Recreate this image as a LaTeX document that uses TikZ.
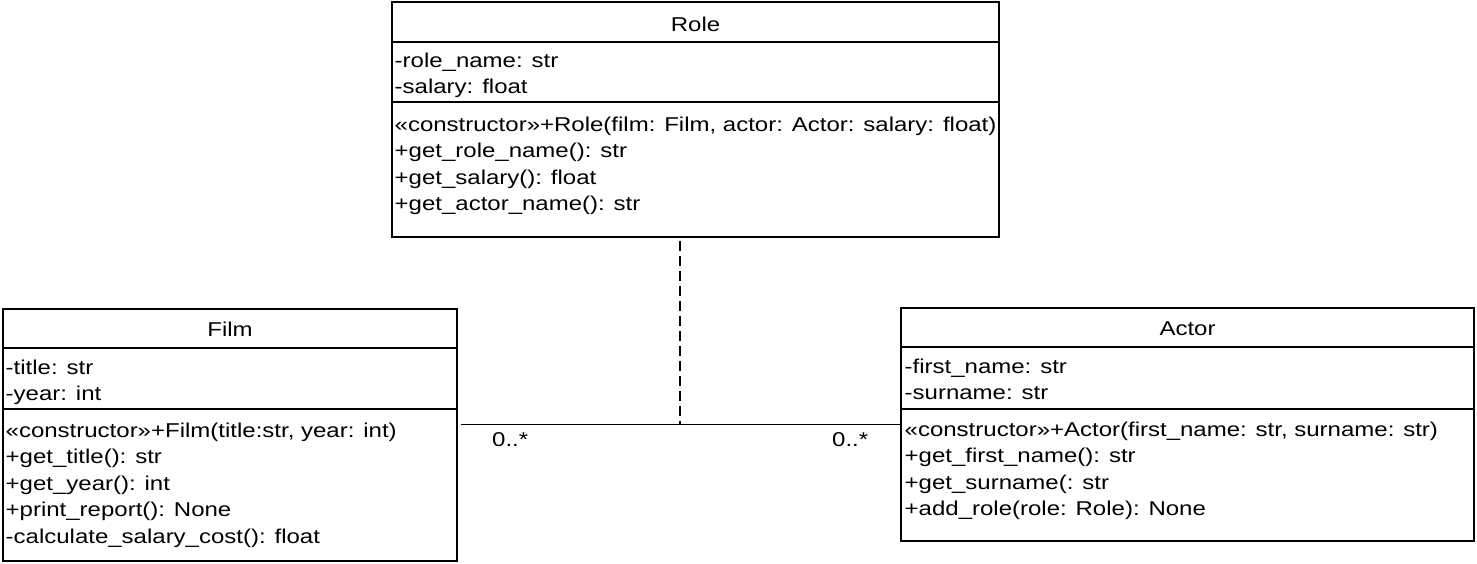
\documentclass[tikz,border=0pt]{standalone}
\usepackage{fontspec}
\setmainfont{Liberation Sans}[FakeStretch=1.2]
\begin{document}
\begin{tikzpicture}[x=1pt,y=-1pt,
  box/.style={draw=black,line width=1.3pt,rectangle,inner sep=0pt,fill=none},
  divider/.style={draw=black,line width=1.3pt},
  txt/.style={inner sep=0pt,anchor=base west,font=\fontsize{20}{24}\selectfont,text=black},
  ttl/.style={inner sep=0pt,anchor=base,font=\fontsize{20}{24}\selectfont,text=black},
  conn/.style={draw=black,line width=1.3pt},
  dconn/.style={draw=black,line width=1.3pt,dash pattern=on 10pt off 5pt},
  mult/.style={inner sep=0pt,anchor=base west,font=\fontsize{20}{24}\selectfont,text=black}]
\useasboundingbox (0,0) rectangle (1477,563);
\fill[white] (0,0) rectangle (1477,563);

% ---------- Role ----------
\node[box,minimum width=607pt,minimum height=235pt] (role) at (695.5,119.5) {};
\draw[divider] (role.west |- 0,42) -- (role.east |- 0,42);
\draw[divider] (role.west |- 0,102) -- (role.east |- 0,102);
\node[ttl] (roleT) at (695.5,31) {Role};
\node[txt] (roleA1) at (394.5,67) {-role\_name: str};
\node[txt] (roleA2) at (394.5,93.6) {-salary: float};
\node[txt] (roleM1) at (394.5,131) {«constructor»+Role(film: Film, actor: Actor: salary: float)};
\node[txt] (roleM2) at (394.5,157.6) {+get\_role\_name(): str};
\node[txt] (roleM3) at (394.5,184.2) {+get\_salary(): float};
\node[txt] (roleM4) at (394.5,210.8) {+get\_actor\_name(): str};

% ---------- Film ----------
\node[box,minimum width=454pt,minimum height=252pt] (film) at (230,435) {};
\draw[divider] (film.west |- 0,348) -- (film.east |- 0,348);
\draw[divider] (film.west |- 0,409) -- (film.east |- 0,409);
\node[ttl] (filmT) at (230,336) {Film};
\node[txt] (filmA1) at (5.5,374) {-title: str};
\node[txt] (filmA2) at (5.5,400.6) {-year: int};
\node[txt] (filmM1) at (5.5,437) {«constructor»+Film(title:str, year: int)};
\node[txt] (filmM2) at (5.5,463.6) {+get\_title(): str};
\node[txt] (filmM3) at (5.5,490.2) {+get\_year(): int};
\node[txt] (filmM4) at (5.5,516.8) {+print\_report(): None};
\node[txt] (filmM5) at (5.5,543.4) {-calculate\_salary\_cost(): float};

% ---------- Actor ----------
\node[box,minimum width=573pt,minimum height=233pt] (actor) at (1187.5,424.5) {};
\draw[divider] (actor.west |- 0,347) -- (actor.east |- 0,347);
\draw[divider] (actor.west |- 0,409) -- (actor.east |- 0,409);
\node[ttl] (actorT) at (1187.5,335) {Actor};
\node[txt] (actorA1) at (904.5,373) {-first\_name: str};
\node[txt] (actorA2) at (904.5,399.6) {-surname: str};
\node[txt] (actorM1) at (904.5,436) {«constructor»+Actor(first\_name: str, surname: str)};
\node[txt] (actorM2) at (904.5,462.6) {+get\_first\_name(): str};
\node[txt] (actorM3) at (904.5,489.2) {+get\_surname(: str};
\node[txt] (actorM4) at (904.5,515.8) {+add\_role(role: Role): None};

% ---------- association ----------
\coordinate (mid) at (680,425);
\draw[conn] ([xshift=3pt]film.east |- actor.west) -- (actor.west);
\draw[dconn] ([yshift=-3pt]mid |- role.south) -- (mid);
\node[mult] (m1) at (492,446) {0..*};
\node[mult] (m2) at (832,446) {0..*};
\end{tikzpicture}
\end{document}
